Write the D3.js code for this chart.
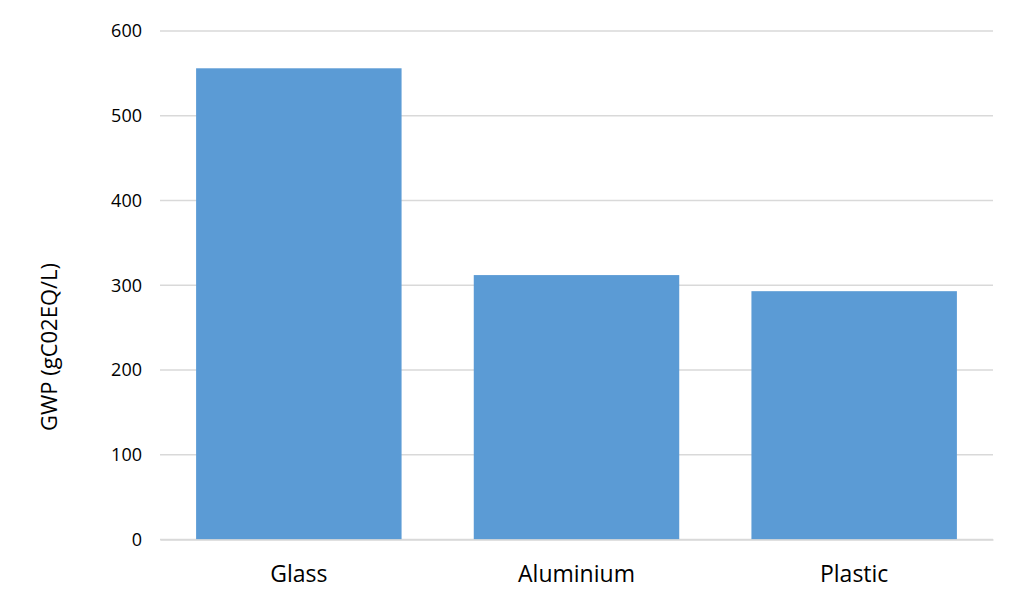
<!DOCTYPE html>
<html><head><meta charset="utf-8">
<script src="https://cdn.jsdelivr.net/npm/d3@7"></script>
<style>body{margin:0;background:#fff}svg{display:block}</style>
</head><body>
<svg id="c" width="1024" height="604"></svg>
<script>
const categories = ["Glass", "Aluminium", "Plastic"];
const values = [556, 312, 293];
const yTicks = [0, 100, 200, 300, 400, 500, 600];
const yTitle = "GWP (gC02EQ/L)";

const svg = d3.select("#c");
const m = {l:160, r:1024-993, t:31, b:604-539.5};
const W = 1024, H = 604;
const x = d3.scaleBand().domain(categories).range([m.l, W-m.r]).paddingInner(0.26).paddingOuter(0.13);
const y = d3.scaleLinear().domain([0,600]).range([H-m.b, m.t]);
const font = "'Open Sans', sans-serif";

svg.append("g").selectAll("line").data(yTicks).join("line")
  .attr("x1", m.l).attr("x2", W-m.r)
  .attr("y1", d=>y(d)).attr("y2", d=>y(d))
  .attr("stroke", "#d9d9d9").attr("stroke-width", 1.3);

svg.append("g").selectAll("rect").data(values).join("rect")
  .attr("x", (d,i)=>x(categories[i]))
  .attr("width", x.bandwidth())
  .attr("y", d=>y(d)).attr("height", d=>y(0)-y(d))
  .attr("fill", "#5b9bd5");

const ya = d3.axisLeft(y).tickValues(yTicks).tickSize(0).tickPadding(18);
const gy = svg.append("g").attr("transform", `translate(${m.l},0)`).call(ya);
gy.select(".domain").remove();
gy.selectAll("text").attr("font-family", font).attr("font-size", 18).attr("fill", "#000");

const xa = d3.axisBottom(x).tickSize(0).tickPadding(22);
const gx = svg.append("g").attr("transform", `translate(0,${y(0)})`).call(xa);
gx.select(".domain").attr("stroke", "#d9d9d9").attr("stroke-width", 1.3);
gx.selectAll("text").attr("font-family", font).attr("font-size", 23).attr("fill", "#000")
  .attr("dy", null).attr("y", 42);

svg.append("text").attr("transform", `translate(57,347) rotate(-90)`)
  .attr("text-anchor", "middle").attr("font-family", font).attr("font-size", 22)
  .attr("fill", "#000").text(yTitle);
</script>
</body></html>
